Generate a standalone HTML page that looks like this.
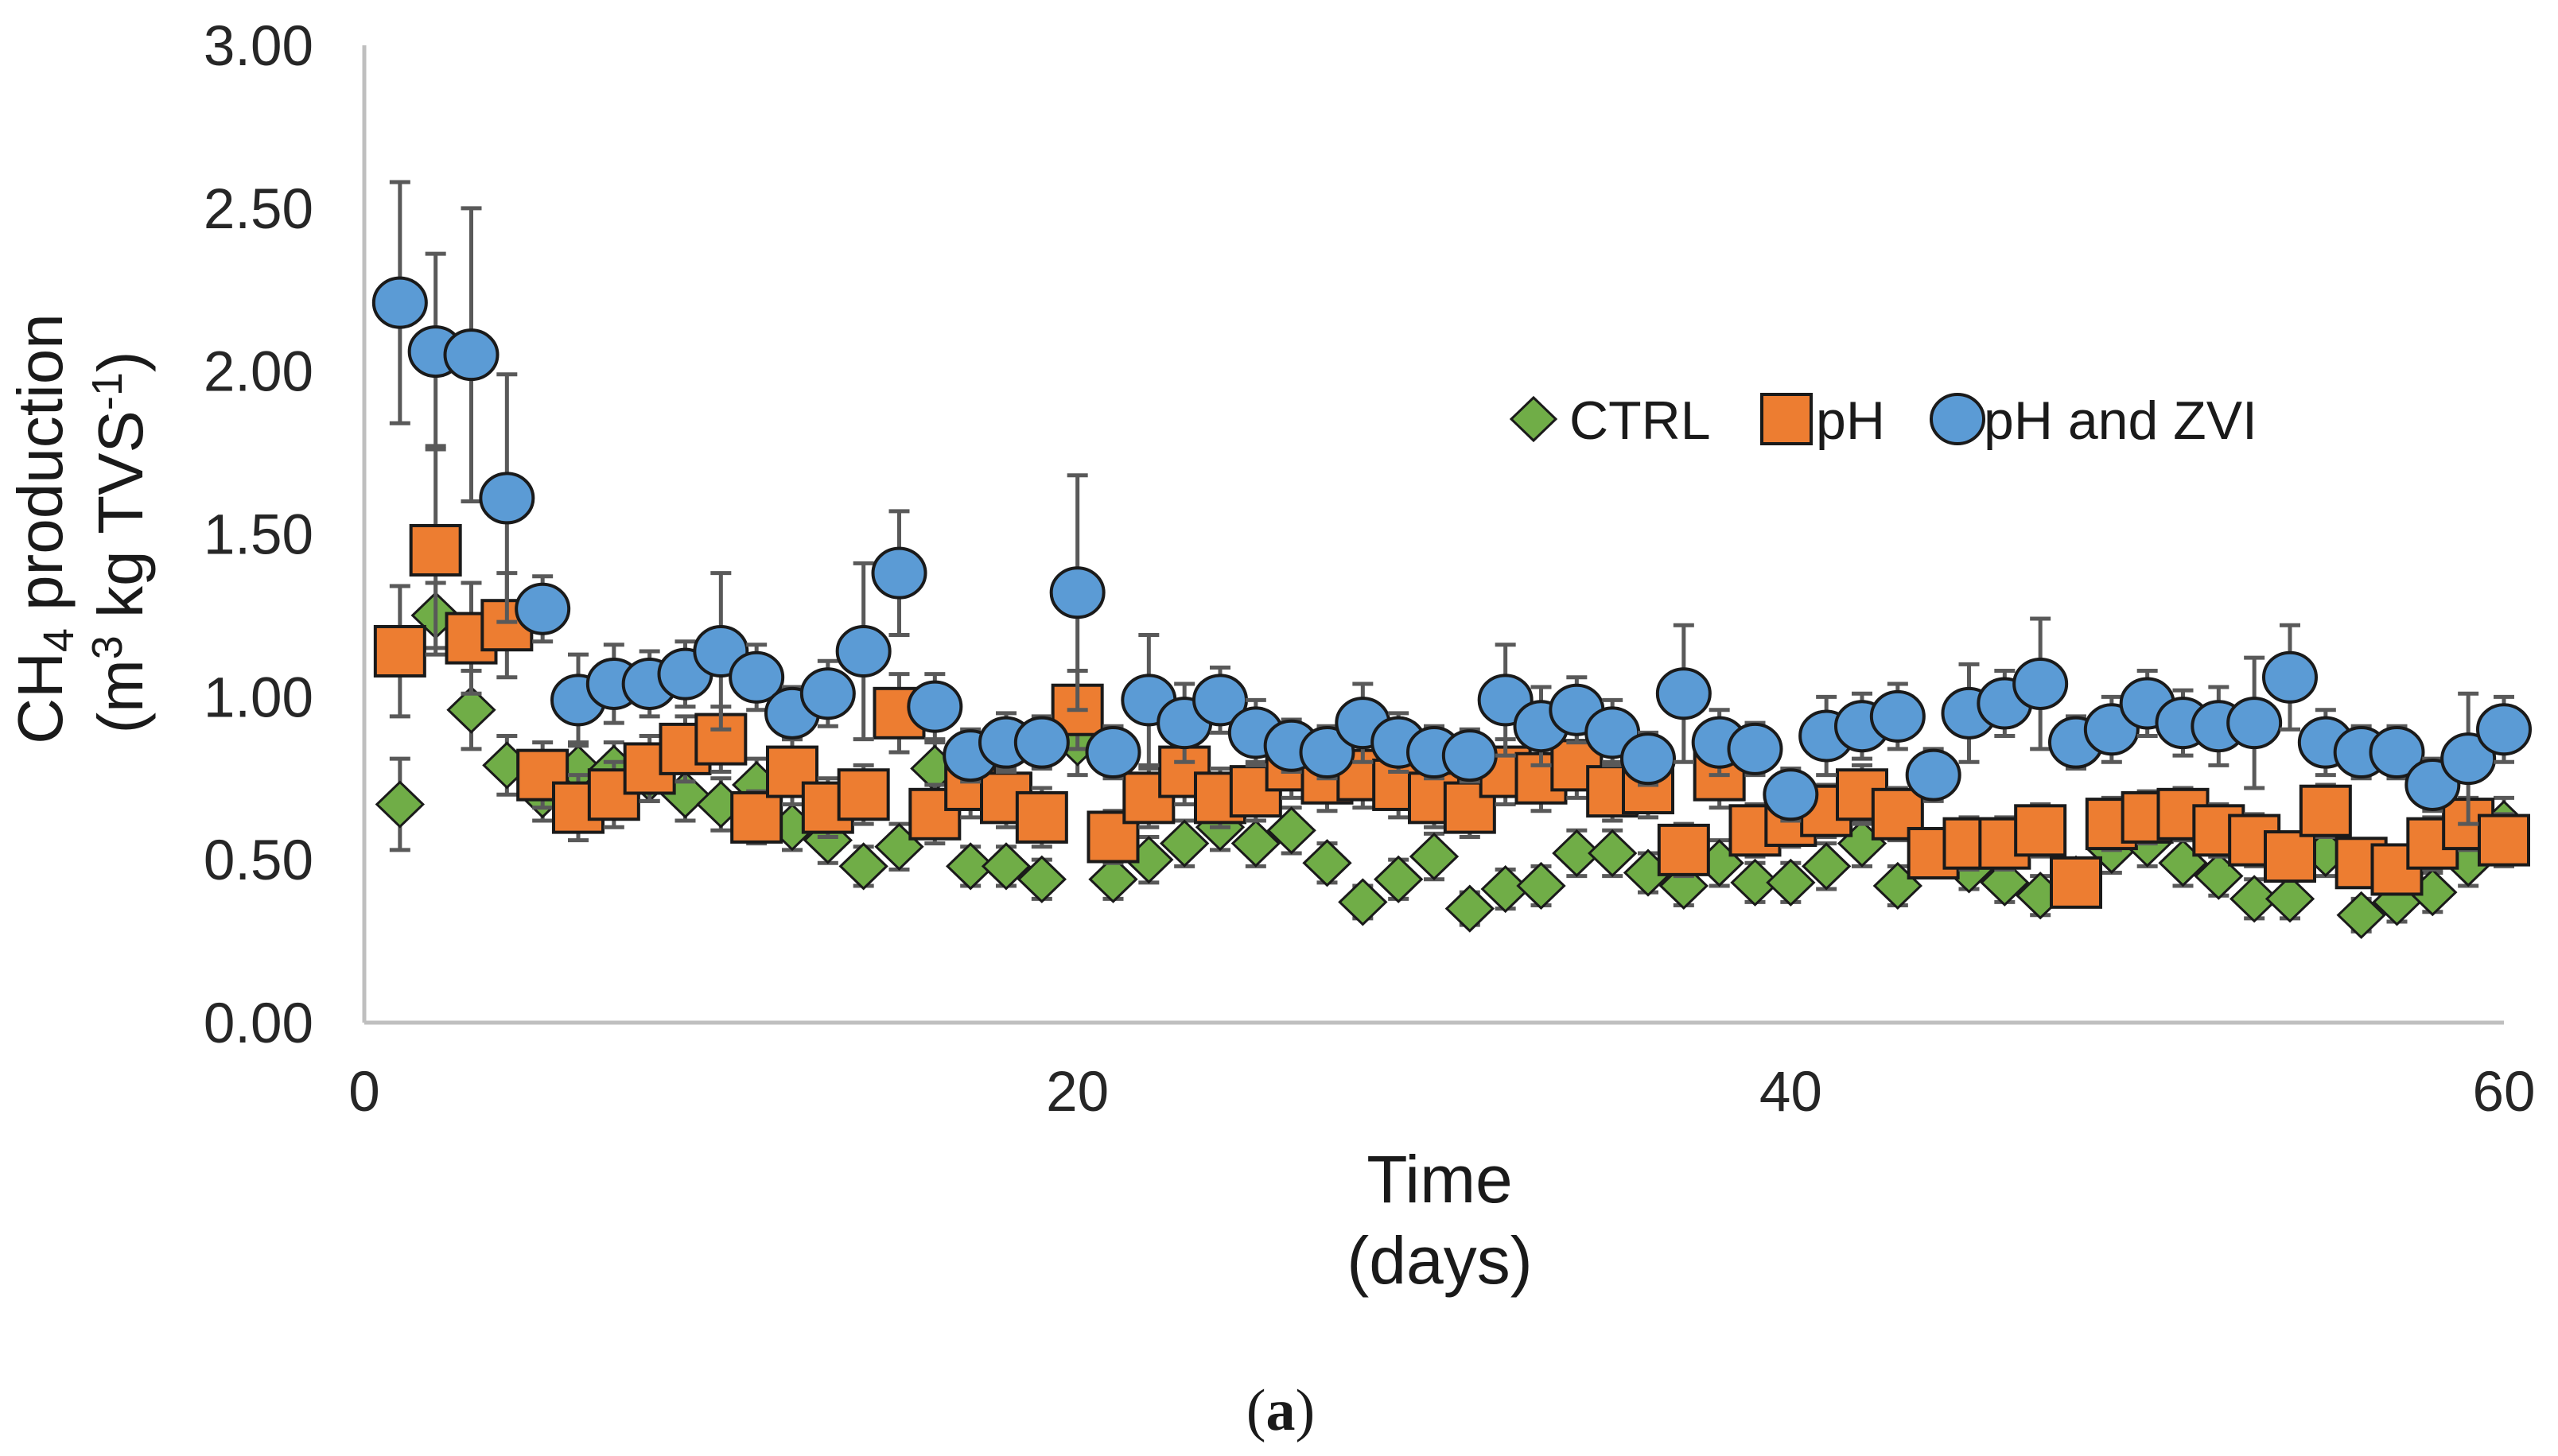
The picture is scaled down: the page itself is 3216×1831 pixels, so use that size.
<!DOCTYPE html>
<html><head><meta charset="utf-8"><style>
html,body{margin:0;padding:0;background:#fff;}
svg{display:block;font-family:"Liberation Sans",Arial,sans-serif;}
</style></head><body>
<svg id="chart" width="3216" height="1831" viewBox="0 0 3216 1831" xmlns="http://www.w3.org/2000/svg">
<rect width="3216" height="1831" fill="#fff"/>
<g id="axes"></g>
<g id="series"></g>
<g id="legend">
  <polygon points="1928,500 1956,527 1928,554 1900,527" fill="#70ad47" stroke="#1a1a1a" stroke-width="3"/>
  <text x="1973" y="552" font-size="68" fill="#1a1a1a">CTRL</text>
  <rect x="2215" y="496" width="62" height="62" fill="#ed7d31" stroke="#1a1a1a" stroke-width="4"/>
  <text x="2283" y="552" font-size="68" fill="#1a1a1a">pH</text>
  <ellipse cx="2461" cy="527" rx="33" ry="31" fill="#5b9bd5" stroke="#1a1a1a" stroke-width="4"/>
  <text x="2494" y="552" font-size="68" fill="#1a1a1a">pH and ZVI</text>
</g>
<text x="1810" y="1512" font-size="84" text-anchor="middle" fill="#1a1a1a">Time</text>
<text x="1810" y="1614" font-size="84" text-anchor="middle" fill="#1a1a1a">(days)</text>
<g fill="#1a1a1a" font-size="80">
  <text transform="translate(78,665) rotate(-90)" text-anchor="middle">CH<tspan font-size="54" dy="14">4</tspan><tspan dy="-14"> production</tspan></text>
  <text transform="translate(179,682) rotate(-90)" text-anchor="middle">(m<tspan font-size="54" dy="-26">3</tspan><tspan dy="26"> kg TVS</tspan><tspan font-size="54" dy="-26">-1</tspan><tspan dy="26">)</tspan></text>
</g>
<text x="1610" y="1798" font-size="74" text-anchor="middle" font-family="Liberation Serif, serif" fill="#1a1a1a">(<tspan font-weight="bold">a</tspan>)</text>
</svg>
<script>
const days = [1,2,3,4,5,6,7,8,9,10,11,12,13,14,15,16,17,18,19,20,21,22,23,24,25,26,27,28,29,30,31,32,33,34,35,36,37,38,39,40,41,42,43,44,45,46,47,48,49,50,51,52,53,54,55,56,57,58,59,60];
const ctrl = [0.67,1.25,0.96,0.79,0.70,0.78,0.78,0.75,0.70,0.67,0.73,0.60,0.56,0.48,0.54,0.78,0.48,0.48,0.44,0.86,0.44,0.50,0.55,0.60,0.55,0.59,0.49,0.37,0.44,0.51,0.35,0.41,0.42,0.52,0.52,0.46,0.42,0.49,0.43,0.43,0.48,0.55,0.42,0.52,0.47,0.43,0.39,0.44,0.53,0.55,0.49,0.45,0.38,0.38,0.52,0.33,0.37,0.40,0.49,0.61];
const ctrlErr = [0.14,0.10,0.12,0.09,0.08,0.08,0.08,0.07,0.08,0.08,0.08,0.07,0.07,0.06,0.07,0.08,0.06,0.06,0.06,0.10,0.06,0.07,0.07,0.07,0.07,0.07,0.06,0.05,0.06,0.07,0.05,0.06,0.06,0.07,0.07,0.06,0.06,0.07,0.06,0.06,0.07,0.07,0.06,0.07,0.06,0.06,0.06,0.06,0.07,0.07,0.07,0.06,0.06,0.06,0.07,0.05,0.06,0.06,0.07,0.08];
const ph = [1.14,1.45,1.18,1.22,0.76,0.66,0.70,0.78,0.84,0.87,0.63,0.77,0.66,0.70,0.95,0.64,0.73,0.69,0.63,0.96,0.57,0.69,0.77,0.69,0.71,0.79,0.75,0.76,0.73,0.69,0.66,0.77,0.75,0.79,0.71,0.72,0.53,0.76,0.59,0.62,0.65,0.70,0.64,0.52,0.55,0.55,0.59,0.43,0.61,0.63,0.64,0.59,0.56,0.51,0.65,0.49,0.47,0.55,0.61,0.56];
const phErr = [0.20,0.32,0.17,0.16,0.10,0.10,0.10,0.10,0.10,0.10,0.08,0.10,0.09,0.09,0.12,0.09,0.10,0.09,0.09,0.12,0.08,0.09,0.10,0.09,0.09,0.10,0.10,0.10,0.10,0.09,0.09,0.10,0.10,0.10,0.09,0.09,0.08,0.10,0.08,0.08,0.08,0.09,0.08,0.07,0.08,0.08,0.08,0.06,0.08,0.08,0.08,0.08,0.08,0.07,0.08,0.07,0.07,0.08,0.08,0.08];
const zvi = [2.21,2.06,2.05,1.61,1.27,0.99,1.04,1.04,1.07,1.14,1.06,0.95,1.01,1.14,1.38,0.97,0.82,0.86,0.86,1.32,0.83,0.99,0.92,0.99,0.89,0.85,0.83,0.92,0.86,0.83,0.82,0.99,0.91,0.96,0.89,0.81,1.01,0.86,0.84,0.70,0.88,0.91,0.94,0.76,0.95,0.98,1.04,0.86,0.90,0.98,0.92,0.91,0.92,1.06,0.86,0.83,0.83,0.73,0.81,0.90];
const zviErr = [0.37,0.30,0.45,0.38,0.10,0.14,0.12,0.10,0.10,0.24,0.10,0.08,0.10,0.27,0.19,0.10,0.08,0.09,0.08,0.36,0.08,0.20,0.12,0.10,0.10,0.08,0.08,0.12,0.09,0.08,0.08,0.17,0.12,0.10,0.10,0.08,0.21,0.10,0.08,0.08,0.12,0.10,0.10,0.08,0.15,0.10,0.20,0.08,0.10,0.10,0.10,0.12,0.20,0.16,0.10,0.08,0.08,0.08,0.20,0.10];
const yTicks = [0,0.5,1,1.5,2,2.5,3];
const yTickLabels = ["0.00","0.50","1.00","1.50","2.00","2.50","3.00"];
const xTicks = [0,20,40,60];
const xTickLabels = ["0","20","40","60"];

const NS='http://www.w3.org/2000/svg';
const X0=458,X1=3148,Y0=1286,Y1=57;
function xs(d){return X0+(d-0)/(60-0)*(X1-X0);}
function ys(v){return Y0-(v-0)/(3-0)*(Y0-Y1);}
function mk(tag,attrs,parent){const e=document.createElementNS(NS,tag);for(const k in attrs)e.setAttribute(k,attrs[k]);parent.appendChild(e);return e;}

const axes=document.getElementById('axes');
const yl=mk('line',{x1:X0,y1:Y1,x2:X0,y2:Y0,stroke:'#bfbfbf','stroke-width':5},axes);


const xl=mk('line',{x1:X0,y1:Y0,x2:X1,y2:Y0,stroke:'#bfbfbf','stroke-width':5},axes);


yTicks.forEach((v,i)=>{
  const t=mk('text',{x:394,y:ys(v)+25,'font-size':71,'text-anchor':'end',fill:'#262626'},axes);
  t.textContent=yTickLabels[i];
  
  
});
xTicks.forEach((v,i)=>{
  const t=mk('text',{x:xs(v),y:1397,'font-size':71,'text-anchor':'middle',fill:'#262626'},axes);
  t.textContent=xTickLabels[i];
  
  
});

const g=document.getElementById('series');
function errbar(d,v,e,parent){
  const x=xs(d),yt=ys(v+e),yb=ys(v-e);
  const p=mk('path',{d:`M${x},${yt}V${yb}M${x-13},${yt}H${x+13}M${x-13},${yb}H${x+13}`,stroke:'#595959','stroke-width':5,fill:'none'},parent);
  
  
}
function series(vals,errs,name,draw){
  const sg=mk('g',{},g);
  
  
  days.forEach((d,i)=>{
    errbar(d,vals[i],errs[i],sg);
    const m=draw(xs(d),ys(vals[i]),sg);
    
    
  });
}
series(ctrl,ctrlErr,'ctrl',(x,y,p)=>mk('polygon',{points:`${x},${y-28} ${x+29},${y} ${x},${y+28} ${x-29},${y}`,fill:'#70ad47',stroke:'#1a1a1a','stroke-width':3},p));
series(ph,phErr,'ph',(x,y,p)=>mk('rect',{x:x-31,y:y-31,width:62,height:62,fill:'#ed7d31',stroke:'#1a1a1a','stroke-width':4},p));
series(zvi,zviErr,'ph-zvi',(x,y,p)=>mk('ellipse',{cx:x,cy:y,rx:33,ry:31,fill:'#5b9bd5',stroke:'#1a1a1a','stroke-width':4},p));
</script>
</body></html>
